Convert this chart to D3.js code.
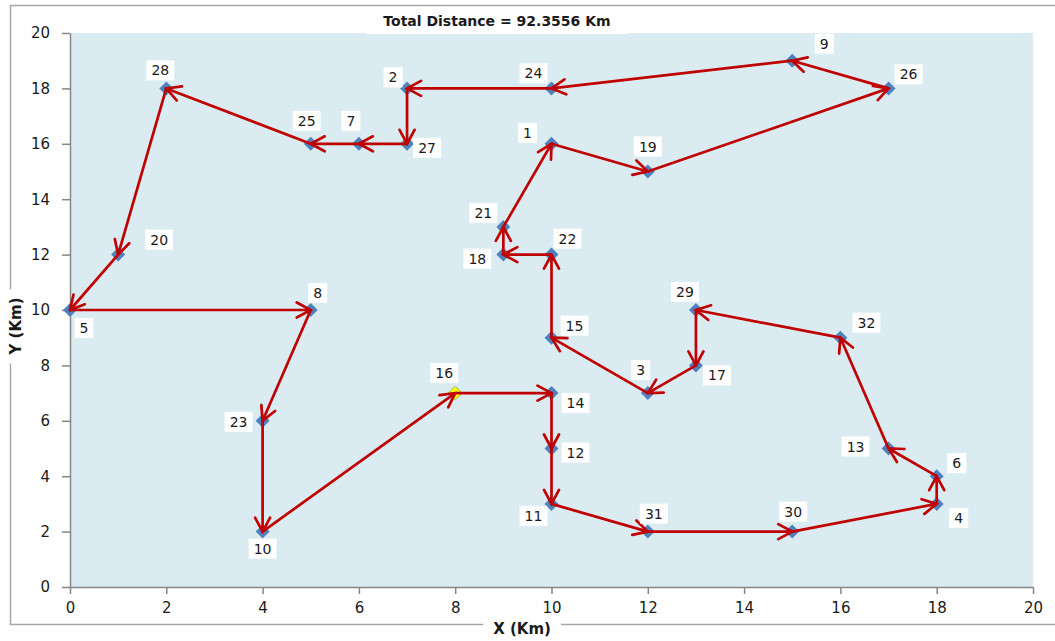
<!DOCTYPE html>
<html><head><meta charset="utf-8">
<script src="https://cdn.jsdelivr.net/npm/d3@7"></script>
<style>body{margin:0;background:#fff;}svg{display:block;}</style>
</head><body>
<svg id="chart" width="1055" height="641"></svg>
<script>
// ---- data ----
const nodeIds = [1,2,3,4,5,6,7,8,9,10,11,12,13,14,15,16,17,18,19,20,21,22,23,24,25,26,27,28,29,30,31,32];
const nodeX   = [10,7,12,18,0,18,6,5,15,4,10,10,17,10,10,8,13,9,12,1,9,10,4,10,5,17,7,2,13,15,12,16];
const nodeY   = [16,18,7,3,10,4,16,10,19,2,3,5,5,7,9,7,8,12,15,12,13,12,6,18,16,18,16,18,10,2,2,9];
const route   = [16,14,12,11,31,30,4,6,13,32,29,17,3,15,22,18,21,1,19,26,9,24,2,27,7,25,28,20,5,8,23,10,16];
const startNode = 16;
const xTicks = [0,2,4,6,8,10,12,14,16,18,20];
const yTicks = [0,2,4,6,8,10,12,14,16,18,20];
const titleText = "Total Distance = 92.3556 Km";
const xTitle = "X  (Km)";
const yTitle = "Y  (Km)";
// label placement offsets in px (layout only)
const labelOffsets = {
  1:[-24,-11],2:[-14,-11],3:[-7,-23],4:[22,14],5:[14,18],6:[20,-13],7:[-8,-23],8:[7,-17],
  9:[32,-17],10:[0,17],11:[-18,12],12:[24,4],13:[-33,-2],14:[24,10],15:[23,-12],16:[-11,-20],
  17:[21,10],18:[-26,4],19:[0,-25],20:[41,-15],21:[-20,-14],22:[16,-16],23:[-24,1],24:[-18,-15],
  25:[-4,-23],26:[20,-14],27:[20,4],28:[-6,-18],29:[-11,-18],30:[1,-20],31:[6,-18],32:[26,-15]
};

const svg = d3.select("#chart");
const x = d3.scaleLinear().domain([0,20]).range([70,1033]);
const y = d3.scaleLinear().domain([0,20]).range([587,33]);
const FONT = "'DejaVu Sans', Verdana, sans-serif";

// outer chart border
svg.append("rect").attr("x",10.5).attr("y",5.5).attr("width",1060).attr("height",619)
  .attr("fill","#fff").attr("stroke","#a6a6a6").attr("stroke-width",1.5);

// plot background
svg.append("rect").attr("x",x(0)).attr("y",y(20)).attr("width",x(20)-x(0)).attr("height",y(0)-y(20))
  .attr("fill","#daecf2");

// axes
const xAxis = svg.append("g").attr("transform",`translate(0,${y(0)})`)
  .call(d3.axisBottom(x).tickValues(xTicks).tickSize(7).tickPadding(8).tickSizeOuter(0));
const yAxis = svg.append("g").attr("transform",`translate(${x(0)},0)`)
  .call(d3.axisLeft(y).tickValues(yTicks).tickSize(8).tickPadding(12).tickSizeOuter(0));
[xAxis,yAxis].forEach(g=>{
  g.select(".domain").attr("stroke","#868686").attr("stroke-width",1.5);
  g.selectAll(".tick line").attr("stroke","#868686").attr("stroke-width",1.5);
  g.selectAll(".tick text").attr("fill","#1a1a1a").style("font-family",FONT).style("font-size","15px");
});

// markers
const pts = nodeIds.map((id,i)=>({id, x:nodeX[i], y:nodeY[i]}));
const byId = new Map(pts.map(p=>[p.id,p]));
const r = 7;
svg.append("g").selectAll("path").data(pts).join("path")
  .attr("d",d=>{const cx=x(d.x), cy=y(d.y);return `M${cx},${cy-r}L${cx+r},${cy}L${cx},${cy+r}L${cx-r},${cy}Z`;})
  .attr("fill",d=>d.id===startNode?"#ffff00":"#4f81bd")
  .attr("stroke",d=>d.id===startNode?"#9bbb59":"none").attr("stroke-width",1);

// arrow marker
const defs = svg.append("defs");
defs.append("marker").attr("id","arr").attr("markerUnits","userSpaceOnUse")
  .attr("viewBox","-16 -10 18 20").attr("refX",0).attr("refY",0)
  .attr("markerWidth",18).attr("markerHeight",20).attr("orient","auto")
  .append("path").attr("d","M-14,-7.5L0,0L-14,7.5").attr("fill","none")
  .attr("stroke","#c00000").attr("stroke-width",2.7).attr("stroke-linecap","round").attr("stroke-linejoin","miter");

// route segments
const segs = d3.pairs(route).map(([a,b])=>({a:byId.get(a), b:byId.get(b)}));
svg.append("g").selectAll("line").data(segs).join("line")
  .attr("x1",d=>x(d.a.x)).attr("y1",d=>y(d.a.y)).attr("x2",d=>x(d.b.x)).attr("y2",d=>y(d.b.y))
  .attr("stroke","#c00000").attr("stroke-width",2.7).attr("marker-end","url(#arr)");

// labels
const lg = svg.append("g").selectAll("g").data(pts).join("g")
  .attr("transform",d=>`translate(${x(d.x)+labelOffsets[d.id][0]},${y(d.y)+labelOffsets[d.id][1]})`);
lg.append("rect").attr("fill","#fff");
lg.append("text").text(d=>d.id).attr("text-anchor","middle").attr("dy","0.36em")
  .attr("fill","#1a1a1a").style("font-family",FONT).style("font-size","14px");
lg.each(function(){
  const t=d3.select(this).select("text").node().getBBox();
  d3.select(this).select("rect").attr("x",t.x-5).attr("y",-10).attr("width",t.width+10).attr("height",20);
});

// titles
function boxedText(txt,cx,cy,size,rot,padX,h){
  const g=svg.append("g").attr("transform",`translate(${cx},${cy}) rotate(${rot})`);
  const rect=g.append("rect").attr("fill","#fff");
  const t=g.append("text").text(txt).attr("text-anchor","middle").attr("dy","0.36em")
    .attr("fill","#1a1a1a").style("font-family",FONT).style("font-size",size+"px").style("font-weight","bold");
  const b=t.node().getBBox();
  rect.attr("x",b.x-padX).attr("y",-h/2).attr("width",b.width+2*padX).attr("height",h);
}
boxedText(titleText,497,21,14,0,17,26);
boxedText(xTitle,522,629,15,0,10,22);
boxedText(yTitle,16,326,15,-90,8,22);
</script>
</body></html>
